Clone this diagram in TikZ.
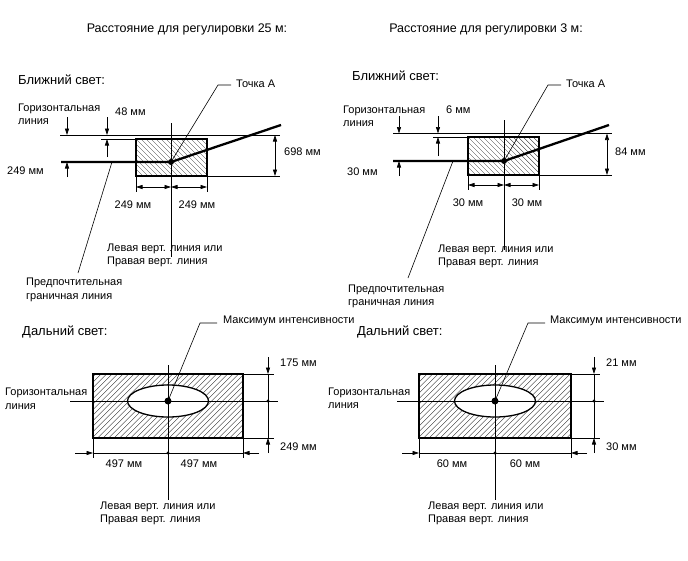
\documentclass[tikz,border=0pt]{standalone}
\usepackage{fontspec}
\setmainfont{Liberation Sans}
\usetikzlibrary{arrows.meta}
\begin{document}
\begin{tikzpicture}[x=1pt,y=-1pt,
  thinln/.style={line width=0.6pt},
  thickln/.style={line width=2.3pt,line join=round},
  boxln/.style={line width=1.1pt},
  hatchln/.style={line width=0.35pt,black!85},
  dimarrow/.style={line width=0.6pt,-{Triangle[length=6.5pt,width=4pt]}},
  dimboth/.style={line width=0.6pt,{Triangle[length=6.5pt,width=4pt]}-{Triangle[length=6.5pt,width=4pt]}},
  lbl/.style={font=\fontsize{11}{13.5}\selectfont,inner sep=0pt,align=left},
  head/.style={font=\fontsize{12.5}{15}\selectfont,inner sep=0pt},
  sechead/.style={font=\fontsize{13}{15}\selectfont,inner sep=0pt},
  bigdot/.style={circle,fill,inner sep=0pt,minimum size=6pt},
  smalldot/.style={circle,fill,inner sep=0pt,minimum size=3.2pt}]
\useasboundingbox (0,0) rectangle (688,560);

% ---------- titles ----------
\node[head] (t1) at (187,29) {Расстояние для регулировки 25 м:};
\node[head] (t2) at (486,29) {Расстояние для регулировки 3 м:};

% ================= Low beam 25 m =================
\node[sechead,anchor=west] (ah) at (18,80) {Ближний свет:};
\begin{scope}
  \clip (136,139) rectangle (207,176);
  \foreach \i in {91,96,...,211} \draw[hatchln] (\i,139) -- ++(40,40);
\end{scope}
\draw[boxln] (136,139) rectangle (207,176);
\coordinate (a1) at (60,135);  \coordinate (a2) at (280,135);
\coordinate (a3) at (207,176); \coordinate (a4) at (280,176);
\draw[thinln] (a1) -- (a2);
\draw[thinln] (a3) -- (a4);
\coordinate (av1) at (171,123); \coordinate (av2) at (171,257);
\draw[thinln] (av1) -- (av2);
\coordinate (a5) at (61,162); \coordinate (a6) at (281,125);
\node[bigdot] (apt) at (171,162) {};
\draw[thickln] (a5) -- (apt.center) -- (a6);
\coordinate (al1) at (218,85); \coordinate (al2) at (231,85);
\draw[thinln] (apt.center) -- (al1) -- (al2);
\node[lbl,anchor=west] (atA) at (236,84) {Точка А};
% left dimension
\coordinate (ad1) at (67,117); \coordinate (ad2) at (67,135);
\coordinate (ad3) at (67,177); \coordinate (ad4) at (67,162);
\draw[dimarrow] (ad1) -- (ad2);
\draw[dimarrow] (ad3) -- (ad4);
% 48 mm dimension
\coordinate (ae1) at (107,117); \coordinate (ae2) at (107,135);
\coordinate (ae3) at (107,157); \coordinate (ae4) at (107,139);
\coordinate (ae5) at (101,139); \coordinate (ae6) at (136,139);
\draw[dimarrow] (ae1) -- (ae2);
\draw[dimarrow] (ae3) -- (ae4);
\draw[thinln] (ae5) -- (ae6);
% right dimension
\coordinate (af1) at (275,135); \coordinate (af2) at (275,176);
\draw[dimboth] (af1) -- (af2);
% bottom dimensions
\coordinate (ag1) at (136,176); \coordinate (ag2) at (136,192);
\coordinate (ag3) at (207,176); \coordinate (ag4) at (207,192);
\draw[thinln] (ag1) -- (ag2);
\draw[thinln] (ag3) -- (ag4);
\coordinate (ag5) at (136,187); \coordinate (ag6) at (171,187); \coordinate (ag7) at (207,187);
\draw[dimboth] (ag5) -- (ag6);
\draw[dimboth] (ag6) -- (ag7);
% preferred boundary leader
\coordinate (ah1) at (112,162); \coordinate (ah2) at (78,273);
\draw[thinln] (ah1) -- (ah2);
% labels
\node[lbl,anchor=west] (ahl) at (18,114.5) {Горизонтальная\\линия};
\node[lbl,anchor=west] (ad) at (7,171) {249 мм};
\node[lbl,anchor=west] (ae) at (115,112) {48 мм};
\node[lbl,anchor=west] (af) at (284,152) {698 мм};
\node[lbl] (agl) at (133,205) {249 мм};
\node[lbl] (agr) at (197,205) {249 мм};
\node[lbl,anchor=west] (avl) at (107,255.5) {Левая верт. линия или\\Правая верт. линия};
\node[lbl,anchor=west] (apb) at (26,290) {Предпочтительная\\граничная линия};

% ================= Low beam 3 m =================
\node[sechead,anchor=west] (bh) at (352,76) {Ближний свет:};
\begin{scope}
  \clip (468,137) rectangle (539,175);
  \foreach \i in {423,428,...,543} \draw[hatchln] (\i,137) -- ++(40,40);
\end{scope}
\draw[boxln] (468,137) rectangle (539,175);
\coordinate (b1) at (393,133.5); \coordinate (b2) at (612,133.5);
\coordinate (b3) at (539,175);   \coordinate (b4) at (612,175);
\draw[thinln] (b1) -- (b2);
\draw[thinln] (b3) -- (b4);
\coordinate (bv1) at (504,120); \coordinate (bv2) at (504,250);
\draw[thinln] (bv1) -- (bv2);
\coordinate (b5) at (393,161); \coordinate (b6) at (609,125);
\node[bigdot] (bpt) at (504,161) {};
\draw[thickln] (b5) -- (bpt.center) -- (b6);
\coordinate (bl1) at (548,85); \coordinate (bl2) at (561,85);
\draw[thinln] (bpt.center) -- (bl1) -- (bl2);
\node[lbl,anchor=west] (btA) at (566,84) {Точка А};
\coordinate (bd1) at (399,116); \coordinate (bd2) at (399,133.5);
\coordinate (bd3) at (399,176); \coordinate (bd4) at (399,161);
\draw[dimarrow] (bd1) -- (bd2);
\draw[dimarrow] (bd3) -- (bd4);
\coordinate (be1) at (438,116); \coordinate (be2) at (438,133.5);
\coordinate (be3) at (438,156); \coordinate (be4) at (438,137);
\coordinate (be5) at (433,137); \coordinate (be6) at (468,137);
\draw[dimarrow] (be1) -- (be2);
\draw[dimarrow] (be3) -- (be4);
\draw[thinln] (be5) -- (be6);
\coordinate (bf1) at (607,133.5); \coordinate (bf2) at (607,175);
\draw[dimboth] (bf1) -- (bf2);
\coordinate (bg1) at (468,175); \coordinate (bg2) at (468,190);
\coordinate (bg3) at (539,175); \coordinate (bg4) at (539,190);
\draw[thinln] (bg1) -- (bg2);
\draw[thinln] (bg3) -- (bg4);
\coordinate (bg5) at (468,185); \coordinate (bg6) at (504,185); \coordinate (bg7) at (539,185);
\draw[dimboth] (bg5) -- (bg6);
\draw[dimboth] (bg6) -- (bg7);
\coordinate (bh1) at (453,161); \coordinate (bh2) at (408,278);
\draw[thinln] (bh1) -- (bh2);
\node[lbl,anchor=west] (bhl) at (343,116.5) {Горизонтальная\\линия};
\node[lbl,anchor=west] (bd) at (347,172) {30 мм};
\node[lbl,anchor=west] (be) at (446,110) {6 мм};
\node[lbl,anchor=west] (bf) at (615,152) {84 мм};
\node[lbl] (bgl) at (468,203) {30 мм};
\node[lbl] (bgr) at (527,203) {30 мм};
\node[lbl,anchor=west] (bvl) at (438,256.5) {Левая верт. линия или\\Правая верт. линия};
\node[lbl,anchor=west] (bpb) at (348,296.5) {Предпочтительная\\граничная линия};

% ================= High beam 25 m =================
\node[sechead,anchor=west] (ch) at (22,332) {Дальний свет:};
\begin{scope}
  \clip (93,374) rectangle (243,438);
  \foreach \i in {26,31.5,...,248} \draw[hatchln] (\i,438) -- ++(66,-66);
\end{scope}
\draw[boxln] (93,374) rectangle (243,438);
\draw[fill=white,line width=1.3pt] (168,401) ellipse [x radius=40.5pt,y radius=16pt];
\coordinate (c1) at (70,401);  \coordinate (c2) at (278,401);
\draw[thinln] (c1) -- (c2);
\coordinate (cv1) at (168,365); \coordinate (cv2) at (168,500);
\draw[thinln] (cv1) -- (cv2);
\node[bigdot,minimum size=7pt] (cpt) at (168,401) {};
\coordinate (cl1) at (200,323); \coordinate (cl2) at (217,323);
\draw[thinln] (cpt.center) -- (cl1) -- (cl2);
\node[lbl,anchor=west] (cmx) at (223,321) {Максимум интенсивности};
\coordinate (ce1) at (243,374); \coordinate (ce2) at (274,374);
\coordinate (ce3) at (243,438); \coordinate (ce4) at (274,438);
\draw[thinln] (ce1) -- (ce2);
\draw[thinln] (ce3) -- (ce4);
\coordinate (cd1) at (268,357); \coordinate (cd2) at (268,374);
\coordinate (cd3) at (268,438); \coordinate (cd4) at (268,453);
\draw[dimarrow] (cd1) -- (cd2);
\draw[thinln] (cd2) -- (cd3);
\draw[dimarrow] (cd4) -- (cd3);
\node[smalldot] (cdm) at (268,401) {};
\coordinate (cg1) at (93,438);  \coordinate (cg2) at (93,458);
\coordinate (cg3) at (243,438); \coordinate (cg4) at (243,458);
\draw[thinln] (cg1) -- (cg2);
\draw[thinln] (cg3) -- (cg4);
\coordinate (cg5) at (93,453); \coordinate (cg6) at (243,453);
\draw[thinln] (cg5) -- (cg6);
\node[smalldot] (cgm) at (168,453) {};
\coordinate (cg7) at (75,453); \coordinate (cg8) at (259,453);
\draw[dimarrow] (cg7) -- (cg5);
\draw[dimarrow] (cg8) -- (cg6);
\node[lbl,anchor=west] (cdt) at (280,363) {175 мм};
\node[lbl,anchor=west] (cdb) at (280,447) {249 мм};
\node[lbl] (cgl) at (124,464) {497 мм};
\node[lbl] (cgr) at (199,464) {497 мм};
\node[lbl,anchor=west] (chl) at (5,399) {Горизонтальная\\линия};
\node[lbl,anchor=west] (cvl) at (100,513.5) {Левая верт. линия или\\Правая верт. линия};

% ================= High beam 3 m =================
\node[sechead,anchor=west] (dh) at (357,332) {Дальний свет:};
\begin{scope}
  \clip (419,374) rectangle (571,438);
  \foreach \i in {352,357.5,...,578} \draw[hatchln] (\i,438) -- ++(66,-66);
\end{scope}
\draw[boxln] (419,374) rectangle (571,438);
\draw[fill=white,line width=1.3pt] (495,401) ellipse [x radius=40.5pt,y radius=16pt];
\coordinate (d1) at (397,401);  \coordinate (d2) at (604,401);
\draw[thinln] (d1) -- (d2);
\coordinate (dv1) at (495,365); \coordinate (dv2) at (495,500);
\draw[thinln] (dv1) -- (dv2);
\node[bigdot,minimum size=7pt] (dpt) at (495,401) {};
\coordinate (dl1) at (528,323); \coordinate (dl2) at (545,323);
\draw[thinln] (dpt.center) -- (dl1) -- (dl2);
\node[lbl,anchor=west] (dmx) at (550,321) {Максимум интенсивности};
\coordinate (de1) at (571,374); \coordinate (de2) at (600,374);
\coordinate (de3) at (571,438); \coordinate (de4) at (600,438);
\draw[thinln] (de1) -- (de2);
\draw[thinln] (de3) -- (de4);
\coordinate (dd1) at (594,357); \coordinate (dd2) at (594,374);
\coordinate (dd3) at (594,438); \coordinate (dd4) at (594,453);
\draw[dimarrow] (dd1) -- (dd2);
\draw[thinln] (dd2) -- (dd3);
\draw[dimarrow] (dd4) -- (dd3);
\node[smalldot] (ddm) at (594,401) {};
\coordinate (dg1) at (419,438); \coordinate (dg2) at (419,458);
\coordinate (dg3) at (571,438); \coordinate (dg4) at (571,458);
\draw[thinln] (dg1) -- (dg2);
\draw[thinln] (dg3) -- (dg4);
\coordinate (dg5) at (419,453); \coordinate (dg6) at (571,453);
\draw[thinln] (dg5) -- (dg6);
\node[smalldot] (dgm) at (495,453) {};
\coordinate (dg7) at (402,453); \coordinate (dg8) at (587,453);
\draw[dimarrow] (dg7) -- (dg5);
\draw[dimarrow] (dg8) -- (dg6);
\node[lbl,anchor=west] (ddt) at (606,363) {21 мм};
\node[lbl,anchor=west] (ddb) at (606,447) {30 мм};
\node[lbl] (dgl) at (452,464) {60 мм};
\node[lbl] (dgr) at (525,464) {60 мм};
\node[lbl,anchor=west] (dhl) at (328,398.5) {Горизонтальная\\линия};
\node[lbl,anchor=west] (dvl) at (428,513.5) {Левая верт. линия или\\Правая верт. линия};
\end{tikzpicture}
\end{document}
